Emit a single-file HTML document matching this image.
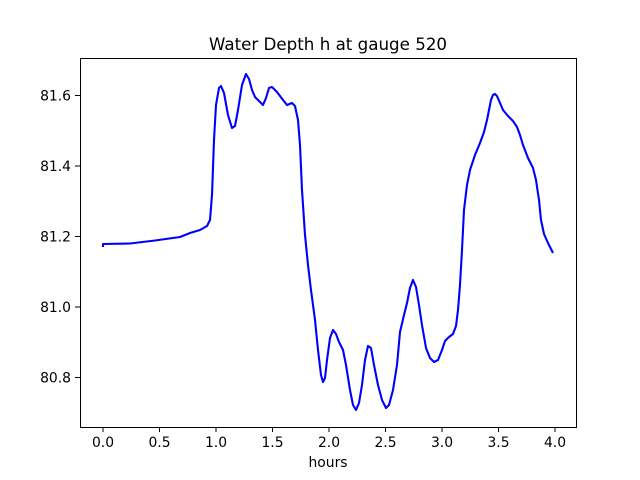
<!DOCTYPE html>
<html><head><meta charset="utf-8"><style>body{margin:0;background:#fff}svg{display:block}</style></head>
<body>
<svg width="640" height="480" xmlns="http://www.w3.org/2000/svg" font-family="'DejaVu Sans',sans-serif" font-size="13.9">
<rect width="640" height="480" fill="#fff"/>
<text x="328" y="50" text-anchor="middle" font-size="16.7">Water Depth h at gauge 520</text>
<polyline fill="none" stroke="#00f" stroke-width="2.1" stroke-linejoin="round" points="103,247 103,244 130,243.5 155,240.5 180,237 190,233 200,230 207,226 210,220 212,195 214,140 216,105 219,88 221,86 224,93 228,115 232,128 235,126 238,110 242,85 246,74 249,79 252,90 255,97 260,102 263,105 266,98 269,88 272,87 277,92 283,100 287,105 292,103 295,106 298,120 300,145 302,190 305,235 308,265 311,290 315,320 318,350 321,375 323,382 325,378 327,360 330,338 333,330 336,334 339,342 343,350 346,365 350,390 353,405 356,410 359,403 362,385 365,360 368,346 371,348 374,365 378,385 382,400 386,408 389,405 393,390 397,365 400,332 404,315 407,303 410,288 413,280 416,287 419,305 422,325 426,348 430,358 434,362 438,360 442,350 445,341 449,337 453,334 456,326 458,310 460,285 462,250 464,210 467,185 470,170 475,155 480,143 484,132 487,120 491,100 493,95 495,94 497,96 500,103 503,110 508,116 513,121 517,127 520,135 523,145 528,158 533,168 536,180 539,200 541,220 544,234 548,243 553,253"/>
<rect x="80.5" y="58.5" width="496" height="369" fill="none" stroke="#000" stroke-width="1"/>
<g stroke="#000">
<line x1="103" y1="427" x2="103" y2="432"/><line x1="159.5" y1="427" x2="159.5" y2="432"/><line x1="216" y1="427" x2="216" y2="432"/><line x1="272.5" y1="427" x2="272.5" y2="432"/><line x1="329" y1="427" x2="329" y2="432"/><line x1="385.5" y1="427" x2="385.5" y2="432"/><line x1="442" y1="427" x2="442" y2="432"/><line x1="498.5" y1="427" x2="498.5" y2="432"/><line x1="555" y1="427" x2="555" y2="432"/>
<line x1="75" y1="95.5" x2="80" y2="95.5"/><line x1="75" y1="166" x2="80" y2="166"/><line x1="75" y1="236.5" x2="80" y2="236.5"/><line x1="75" y1="307" x2="80" y2="307"/><line x1="75" y1="377.5" x2="80" y2="377.5"/>
</g>
<g text-anchor="middle">
<text x="103" y="447">0.0</text><text x="159.5" y="447">0.5</text><text x="216" y="447">1.0</text><text x="272.5" y="447">1.5</text><text x="329" y="447">2.0</text><text x="385.5" y="447">2.5</text><text x="442" y="447">3.0</text><text x="498.5" y="447">3.5</text><text x="555" y="447">4.0</text>
<text x="328" y="467">hours</text>
</g>
<g text-anchor="end">
<text x="71" y="100.5">81.6</text><text x="71" y="171">81.4</text><text x="71" y="241.5">81.2</text><text x="71" y="312">81.0</text><text x="71" y="382.5">80.8</text>
</g>
</svg>
</body></html>
